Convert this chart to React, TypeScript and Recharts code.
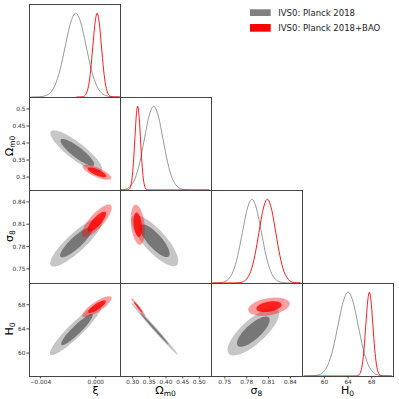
import React from "react";
import { ComposedChart, XAxis, YAxis, Line, Scatter } from "recharts";

// ---- axis settings -------------------------------------------------------
const xiDomain = [-0.00482, 0.00175];
const xiTicks = [-0.004, 0];
const xiTickLabels = ["−0.004", "0.000"];

const omDomain = [0.262, 0.535];
const omTicks = [0.3, 0.35, 0.4, 0.45, 0.5];
const omTickLabelsX = ["0.30", "0.35", "0.40", "0.45", "0.50"];
const omTickLabelsY = ["0.3", "0.35", "0.4", "0.45", "0.5"];

const s8Domain = [0.731, 0.856];
const s8Ticks = [0.75, 0.78, 0.81, 0.84];
const s8TickLabels = ["0.75", "0.78", "0.81", "0.84"];

const h0Domain = [56.2, 71.6];
const h0Ticks = [60, 64, 68];
const h0TickLabels = ["60", "64", "68"];

const seriesNames = ["IVS0: Planck 2018", "IVS0: Planck 2018+BAO"];

// ---- 1D marginals (peak normalised to 1) ----------------------------------
const xiGray = [
  { x: -0.0047, p: 0 }, { x: -0.00445, p: 0.001 }, { x: -0.004075, p: 0.003 },
  { x: -0.0037, p: 0.012 }, { x: -0.003325, p: 0.045 }, { x: -0.00295, p: 0.137 },
  { x: -0.002575, p: 0.326 }, { x: -0.0022, p: 0.607 }, { x: -0.001825, p: 0.882 },
  { x: -0.00145, p: 1 }, { x: -0.001075, p: 0.884 }, { x: -0.0007, p: 0.61 },
  { x: -0.000325, p: 0.33 }, { x: 0.00005, p: 0.14 }, { x: 0.000425, p: 0.047 },
  { x: 0.0008, p: 0.013 }, { x: 0.001175, p: 0.003 }, { x: 0.00155, p: 0.001 },
  { x: 0.0017, p: 0 },
];
const xiRed = [
  { x: -0.0014, p: 0 }, { x: -0.00114, p: 0.0004 }, { x: -0.000985, p: 0.002 },
  { x: -0.00083, p: 0.011 }, { x: -0.000675, p: 0.044 }, { x: -0.00052, p: 0.135 },
  { x: -0.000365, p: 0.325 }, { x: -0.00021, p: 0.606 }, { x: -0.000055, p: 0.882 },
  { x: 0.0001, p: 1 }, { x: 0.000255, p: 0.882 }, { x: 0.00041, p: 0.606 },
  { x: 0.000565, p: 0.325 }, { x: 0.00072, p: 0.135 }, { x: 0.000875, p: 0.044 },
  { x: 0.00103, p: 0.011 }, { x: 0.001185, p: 0.002 }, { x: 0.00134, p: 0.0004 },
  { x: 0.00175, p: 0 },
];
const omGray = [
  { x: 0.265, p: 0.002 }, { x: 0.279, p: 0.011 }, { x: 0.293, p: 0.044 },
  { x: 0.307, p: 0.135 }, { x: 0.321, p: 0.325 }, { x: 0.335, p: 0.606 },
  { x: 0.349, p: 0.882 }, { x: 0.363, p: 1 }, { x: 0.377, p: 0.883 },
  { x: 0.391, p: 0.608 }, { x: 0.405, p: 0.327 }, { x: 0.419, p: 0.137 },
  { x: 0.433, p: 0.045 }, { x: 0.447, p: 0.012 }, { x: 0.461, p: 0.002 },
  { x: 0.475, p: 0.0003 }, { x: 0.53, p: 0 },
];
const omRed = [
  { x: 0.265, p: 0 }, { x: 0.281, p: 0.0003 }, { x: 0.28525, p: 0.002 },
  { x: 0.2895, p: 0.011 }, { x: 0.29375, p: 0.044 }, { x: 0.298, p: 0.135 },
  { x: 0.30225, p: 0.325 }, { x: 0.3065, p: 0.606 }, { x: 0.31075, p: 0.882 },
  { x: 0.315, p: 1 }, { x: 0.31925, p: 0.882 }, { x: 0.3235, p: 0.606 },
  { x: 0.32775, p: 0.325 }, { x: 0.332, p: 0.135 }, { x: 0.33625, p: 0.044 },
  { x: 0.3405, p: 0.011 }, { x: 0.34475, p: 0.002 }, { x: 0.349, p: 0.0003 },
  { x: 0.53, p: 0 },
];
const s8Gray = [
  { x: 0.733, p: 0 }, { x: 0.7352, p: 0.0003 }, { x: 0.7417, p: 0.002 },
  { x: 0.7482, p: 0.011 }, { x: 0.7547, p: 0.044 }, { x: 0.7612, p: 0.135 },
  { x: 0.7677, p: 0.325 }, { x: 0.7742, p: 0.606 }, { x: 0.7807, p: 0.882 },
  { x: 0.7872, p: 1 }, { x: 0.7937, p: 0.882 }, { x: 0.8002, p: 0.606 },
  { x: 0.8067, p: 0.325 }, { x: 0.8132, p: 0.135 }, { x: 0.8197, p: 0.044 },
  { x: 0.8262, p: 0.011 }, { x: 0.8327, p: 0.002 }, { x: 0.8392, p: 0.0003 },
  { x: 0.854, p: 0 },
];
const s8Red = [
  { x: 0.733, p: 0 }, { x: 0.7624, p: 0.0003 }, { x: 0.76815, p: 0.002 },
  { x: 0.7739, p: 0.011 }, { x: 0.77965, p: 0.044 }, { x: 0.7854, p: 0.135 },
  { x: 0.79115, p: 0.325 }, { x: 0.7969, p: 0.606 }, { x: 0.80265, p: 0.882 },
  { x: 0.8084, p: 1 }, { x: 0.81415, p: 0.882 }, { x: 0.8199, p: 0.606 },
  { x: 0.82565, p: 0.325 }, { x: 0.8314, p: 0.135 }, { x: 0.83715, p: 0.044 },
  { x: 0.8429, p: 0.011 }, { x: 0.84865, p: 0.002 }, { x: 0.854, p: 0.0003 },
];
const h0Gray = [
  { x: 56.5, p: 0 }, { x: 57.2, p: 0.0003 }, { x: 58.05, p: 0.002 },
  { x: 58.9, p: 0.011 }, { x: 59.75, p: 0.044 }, { x: 60.6, p: 0.135 },
  { x: 61.45, p: 0.325 }, { x: 62.3, p: 0.606 }, { x: 63.15, p: 0.882 },
  { x: 64.0, p: 1 }, { x: 64.85, p: 0.882 }, { x: 65.7, p: 0.606 },
  { x: 66.55, p: 0.325 }, { x: 67.4, p: 0.135 }, { x: 68.25, p: 0.044 },
  { x: 69.1, p: 0.011 }, { x: 69.95, p: 0.002 }, { x: 70.8, p: 0.0003 },
  { x: 71.4, p: 0 },
];
const h0Red = [
  { x: 56.5, p: 0 }, { x: 65.2, p: 0.0003 }, { x: 65.5, p: 0.002 },
  { x: 65.8, p: 0.011 }, { x: 66.1, p: 0.044 }, { x: 66.4, p: 0.135 },
  { x: 66.7, p: 0.325 }, { x: 67.0, p: 0.606 }, { x: 67.3, p: 0.882 },
  { x: 67.6, p: 1 }, { x: 67.9, p: 0.882 }, { x: 68.2, p: 0.606 },
  { x: 68.5, p: 0.325 }, { x: 68.8, p: 0.135 }, { x: 69.1, p: 0.044 },
  { x: 69.4, p: 0.011 }, { x: 69.7, p: 0.002 }, { x: 70.0, p: 0.0003 },
  { x: 71.4, p: 0 },
];

// ---- 2D contours: [centre, major-axis tip, minor-axis tip] ---------------
const xiOmGray95 = [{ x: -0.001403, y: 0.3761 }, { x: 0.000432, y: 0.3183 }, { x: -0.001777, y: 0.3564 }];
const xiOmGray68 = [{ x: -0.001331, y: 0.3725 }, { x: -0.000137, y: 0.335 }, { x: -0.001561, y: 0.3602 }];
const xiOmRed95 = [{ x: 0.000086, y: 0.3139 }, { x: 0.001112, y: 0.2956 }, { x: -0.000047, y: 0.3015 }];
const xiOmRed68 = [{ x: 0.000086, y: 0.3139 }, { x: 0.000753, y: 0.302 }, { x: 0.0, y: 0.3058 }];

const xiS8Gray95 = [{ x: -0.001403, y: 0.7858 }, { x: 0.000432, y: 0.8173 }, { x: -0.000954, y: 0.7767 }];
const xiS8Gray68 = [{ x: -0.001403, y: 0.7858 }, { x: -0.000266, y: 0.8054 }, { x: -0.00113, y: 0.7802 }];
const xiS8Red95 = [{ x: 0.000072, y: 0.8146 }, { x: 0.001079, y: 0.8355 }, { x: 0.000445, y: 0.8083 }];
const xiS8Red68 = [{ x: 0.000072, y: 0.8133 }, { x: 0.000697, y: 0.8262 }, { x: 0.000302, y: 0.8094 }];

const xiH0Gray95 = [{ x: -0.001439, y: 63.875 }, { x: 0.000396, y: 68.0 }, { x: -0.001087, y: 63.047 }];
const xiH0Gray68 = [{ x: -0.001367, y: 63.875 }, { x: -0.000247, y: 66.39 }, { x: -0.001151, y: 63.37 }];
const xiH0Red95 = [{ x: 0.000086, y: 67.68 }, { x: 0.001127, y: 69.28 }, { x: 0.000286, y: 66.99 }];
const xiH0Red68 = [{ x: 0.000086, y: 67.68 }, { x: 0.000711, y: 68.64 }, { x: 0.000207, y: 67.27 }];

const omS8Gray95 = [{ x: 0.3662, y: 0.7878 }, { x: 0.4323, y: 0.7549 }, { x: 0.3907, y: 0.7977 }];
const omS8Gray68 = [{ x: 0.3662, y: 0.7878 }, { x: 0.4082, y: 0.7668 }, { x: 0.3817, y: 0.7941 }];
const omS8Red95 = [{ x: 0.3153, y: 0.8093 }, { x: 0.322, y: 0.7824 }, { x: 0.3355, y: 0.8103 }];
const omS8Red68 = [{ x: 0.3153, y: 0.8093 }, { x: 0.3194, y: 0.7929 }, { x: 0.3272, y: 0.8099 }];

const omH0Gray95 = [{ x: 0.3654, y: 64.04 }, { x: 0.435, y: 59.74 }, { x: 0.3694, y: 64.24 }];
const omH0Gray68 = [{ x: 0.3654, y: 64.04 }, { x: 0.4079, y: 61.42 }, { x: 0.3677, y: 64.15 }];
const omH0Red95 = [{ x: 0.3168, y: 67.6 }, { x: 0.3377, y: 66.11 }, { x: 0.3199, y: 67.73 }];
const omH0Red68 = [{ x: 0.3168, y: 67.6 }, { x: 0.3296, y: 66.69 }, { x: 0.3187, y: 67.68 }];

const s8H0Gray95 = [{ x: 0.7891, y: 63.54 }, { x: 0.8227, y: 67.2 }, { x: 0.8001, y: 62.07 }];
const s8H0Gray68 = [{ x: 0.7891, y: 63.54 }, { x: 0.8105, y: 65.87 }, { x: 0.796, y: 62.62 }];
const s8H0Red95 = [{ x: 0.8106, y: 67.68 }, { x: 0.839, y: 68.28 }, { x: 0.8127, y: 66.29 }];
const s8H0Red68 = [{ x: 0.8106, y: 67.68 }, { x: 0.8279, y: 68.05 }, { x: 0.8118, y: 66.86 }];

// ---- layout / style --------------------------------------------------------
const COLS = [29, 120, 211, 302, 393];
const ROWS = [4, 97, 190, 283, 376];
const FRAME = "#444";
const FONT = "DejaVu Sans";
const TICK = { fontSize: 5.8, fill: "#333", fontFamily: FONT };
const GRAY_LINE = "#8c8c8c";
const RED_LINE = "#ff0000";

const AX = {
  xi: { domain: xiDomain, ticks: xiTicks, labels: xiTickLabels, labelsY: xiTickLabels },
  om: { domain: omDomain, ticks: omTicks, labels: omTickLabelsX, labelsY: omTickLabelsY },
  s8: { domain: s8Domain, ticks: s8Ticks, labels: s8TickLabels, labelsY: s8TickLabels },
  h0: { domain: h0Domain, ticks: h0Ticks, labels: h0TickLabels, labelsY: h0TickLabels },
};

// draws an ellipse from the pixel positions of centre + two conjugate tips
const ellipse = (fill: string, opacity: number) => (props: any) => {
  const pts = props.points;
  if (!pts || pts.length < 3) return <g />;
  const [c, a, b] = pts;
  const ux = a.x - c.x, uy = a.y - c.y, vx = b.x - c.x, vy = b.y - c.y;
  let d = "";
  for (let i = 0; i < 90; i++) {
    const t = (i / 90) * Math.PI * 2;
    const px = c.x + ux * Math.cos(t) + vx * Math.sin(t);
    const py = c.y + uy * Math.cos(t) + vy * Math.sin(t);
    d += (i === 0 ? "M" : "L") + px.toFixed(2) + "," + py.toFixed(2);
  }
  return <path d={d + "Z"} fill={fill} fillOpacity={opacity} stroke="none" />;
};

function contours(g95: any[], g68: any[], r95: any[], r68: any[]) {
  const list = [
    [g95, "#c6c6c6", 1],
    [g68, "#777777", 1],
    [r95, "#ff0000", 0.38],
    [r68, "#ff0000", 0.8],
  ] as const;
  return list.map(([d, fill, op], i) => (
    <Scatter
      key={i}
      data={d as any}
      lineType="joint"
      line={ellipse(fill, op)}
      shape={() => <g />}
      isAnimationActive={false}
    />
  ));
}

function curves(gray: any[], red: any[]) {
  return [
    <Line key="g" data={gray} dataKey="p" type="monotone" dot={false} stroke={GRAY_LINE} strokeWidth={0.9} isAnimationActive={false} />,
    <Line key="r" data={red} dataKey="p" type="monotone" dot={false} stroke={RED_LINE} strokeWidth={0.9} isAnimationActive={false} />,
  ];
}

function Panel({ col, row, xk, yk, children }: any) {
  const left = COLS[col];
  const top = ROWS[row];
  const pw = COLS[col + 1] - left;
  const ph = ROWS[row + 1] - top;
  const wy = col === 0 ? left : 4;
  const hx = row === 3 ? 16 : 4;
  const xa = AX[xk as keyof typeof AX];
  const ya = yk ? AX[yk as keyof typeof AX] : null;
  return (
    <div style={{ position: "absolute", left: left - wy, top, width: pw + wy, height: ph + hx }}>
      <ComposedChart width={pw + wy} height={ph + hx} margin={{ top: 0, right: 0, bottom: 0, left: 0 }}>
        <XAxis
          type="number"
          dataKey="x"
          domain={xa.domain}
          allowDataOverflow
          ticks={xa.ticks}
          interval={0}
          tickFormatter={(v: number, i: number) => xa.labels[i]}
          tick={row === 3 ? TICK : false}
          tickSize={2.5}
          tickMargin={1}
          height={hx}
          axisLine={false}
          tickLine={{ stroke: FRAME }}
        />
        {ya ? (
          <YAxis
            type="number"
            dataKey="y"
            domain={ya.domain}
            allowDataOverflow
            ticks={ya.ticks}
            interval={0}
            tickFormatter={(v: number, i: number) => ya.labelsY[i]}
            tick={col === 0 ? TICK : false}
            tickSize={2.5}
            tickMargin={1}
            width={wy}
            axisLine={false}
            tickLine={{ stroke: FRAME }}
          />
        ) : (
          <YAxis type="number" dataKey="p" domain={[0, 1.11]} allowDataOverflow tick={false} tickLine={false} axisLine={false} width={wy} />
        )}
        {children}
      </ComposedChart>
    </div>
  );
}

export default function App() {
  const frames: any[] = [];
  for (let r = 0; r < 4; r++) {
    for (let c = 0; c <= r; c++) {
      frames.push(
        <rect
          key={`${r}-${c}`}
          x={COLS[c] + 0.5}
          y={ROWS[r] + 0.5}
          width={COLS[c + 1] - COLS[c]}
          height={ROWS[r + 1] - ROWS[r]}
          fill="none"
          stroke={FRAME}
          strokeWidth={1}
        />
      );
    }
  }
  return (
    <div style={{ position: "absolute", left: 0, top: 0, width: 399, height: 399, background: "#fff", fontFamily: FONT }}>
      <Panel col={0} row={0} xk="xi">{curves(xiGray, xiRed)}</Panel>
      <Panel col={0} row={1} xk="xi" yk="om">{contours(xiOmGray95, xiOmGray68, xiOmRed95, xiOmRed68)}</Panel>
      <Panel col={1} row={1} xk="om">{curves(omGray, omRed)}</Panel>
      <Panel col={0} row={2} xk="xi" yk="s8">{contours(xiS8Gray95, xiS8Gray68, xiS8Red95, xiS8Red68)}</Panel>
      <Panel col={1} row={2} xk="om" yk="s8">{contours(omS8Gray95, omS8Gray68, omS8Red95, omS8Red68)}</Panel>
      <Panel col={2} row={2} xk="s8">{curves(s8Gray, s8Red)}</Panel>
      <Panel col={0} row={3} xk="xi" yk="h0">{contours(xiH0Gray95, xiH0Gray68, xiH0Red95, xiH0Red68)}</Panel>
      <Panel col={1} row={3} xk="om" yk="h0">{contours(omH0Gray95, omH0Gray68, omH0Red95, omH0Red68)}</Panel>
      <Panel col={2} row={3} xk="s8" yk="h0">{contours(s8H0Gray95, s8H0Gray68, s8H0Red95, s8H0Red68)}</Panel>
      <Panel col={3} row={3} xk="h0">{curves(h0Gray, h0Red)}</Panel>

      <svg width={399} height={399} style={{ position: "absolute", left: 0, top: 0, pointerEvents: "none" }}>
        {frames}
        {/* axis titles */}
        <g fontFamily={FONT} fill="#000" fontSize={11} textAnchor="middle">
          <text x={95.5} y={393.5}>ξ</text>
          <text x={165.5} y={393.5}>Ω<tspan fontSize={7.5} dy={2.5}>m0</tspan></text>
          <text x={256.5} y={393.5}>σ<tspan fontSize={7.5} dy={2.5}>8</tspan></text>
          <text x={347.5} y={393.5}>H<tspan fontSize={7.5} dy={2.5}>0</tspan></text>
          <text transform="translate(12.5,146) rotate(-90)">Ω<tspan fontSize={7.5} dy={2.5}>m0</tspan></text>
          <text transform="translate(12.5,236) rotate(-90)">σ<tspan fontSize={7.5} dy={2.5}>8</tspan></text>
          <text transform="translate(12.5,329) rotate(-90)">H<tspan fontSize={7.5} dy={2.5}>0</tspan></text>
        </g>
        {/* legend */}
        <rect x={250} y={9.3} width={20.7} height={6.7} fill="#808080" />
        <rect x={250} y={24} width={20.7} height={7.7} fill="#ff0000" />
        <g fontFamily={FONT} fill="#222" fontSize={8.5}>
          <text x={278.3} y={15.7}>{seriesNames[0]}</text>
          <text x={278.3} y={31}>{seriesNames[1]}</text>
        </g>
      </svg>
    </div>
  );
}
